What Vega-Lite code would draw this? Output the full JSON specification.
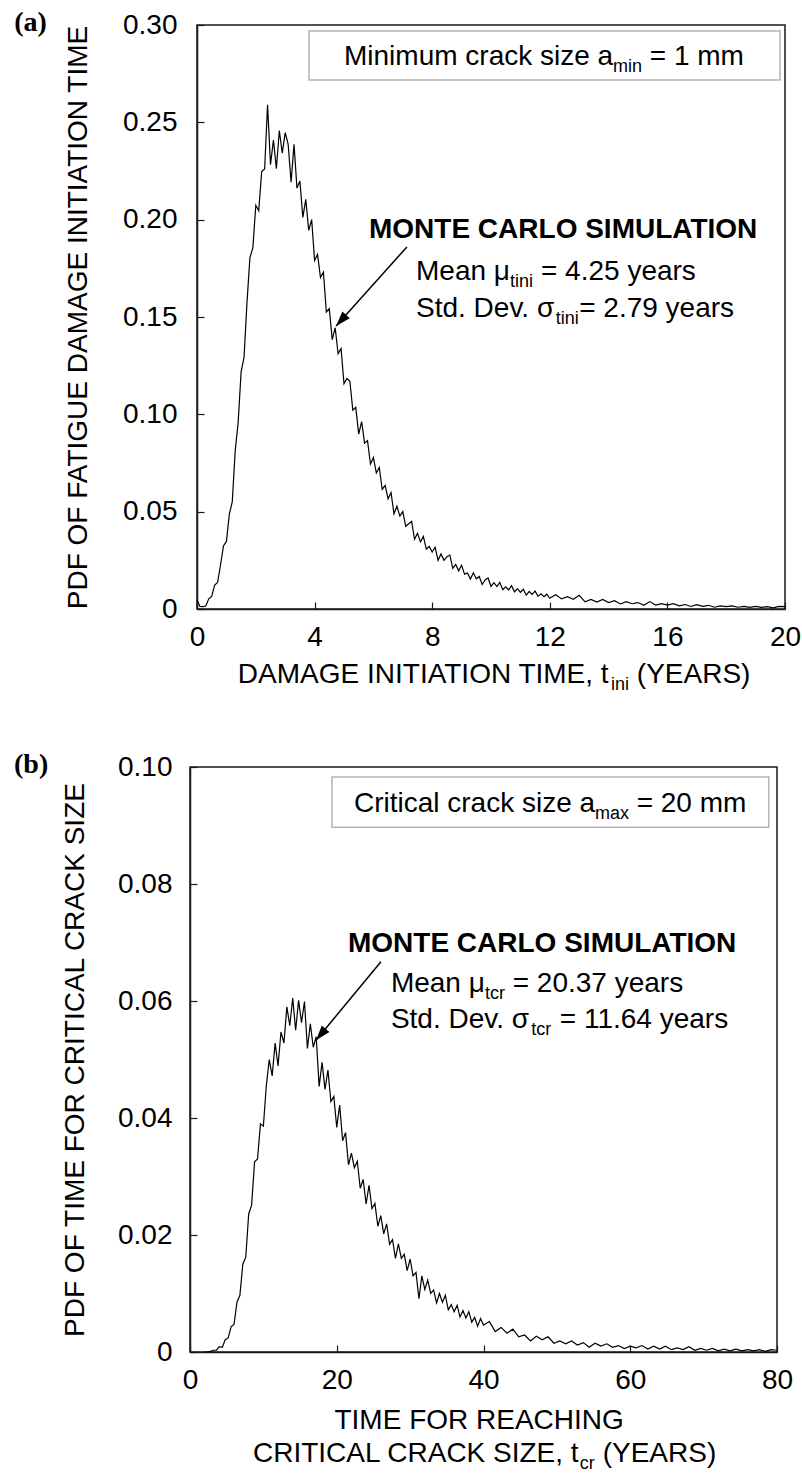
{
  "$schema": "https://vega.github.io/schema/vega-lite/v6.json",
  "padding": {"left": 13, "top": 8, "right": 5, "bottom": 5},
  "spacing": 55,
  "config": {
    "view": {"stroke": "#1a1a1a", "strokeWidth": 1.5},
    "axis": {"domainColor": "#1a1a1a", "domainWidth": 1.5, "tickColor": "#1a1a1a", "tickWidth": 1.2, "tickSize": -7, "labelFont": "Liberation Sans", "labelFontSize": 28, "labelColor": "#000", "titleFont": "Liberation Sans", "titleFontSize": 28, "titleFontWeight": "normal", "titleColor": "#000", "grid": false, "labelFlush": false},
    "axisX": {"labelPadding": 21},
    "axisY": {"labelPadding": 25, "minExtent": 80, "maxExtent": 80}
  },
  "datasets": {
    "curveA": [
      {"x":0,"y":0.0046},{"x":0.1,"y":0.0013},{"x":0.2,"y":0.0012},{"x":0.3,"y":0.0015},{"x":0.4,"y":0.0052},{"x":0.5,"y":0.0065},{"x":0.6,"y":0.0123},{"x":0.7,"y":0.0137},{"x":0.8,"y":0.0226},{"x":0.9,"y":0.0324},
      {"x":1.0,"y":0.0347},{"x":1.1,"y":0.0487},{"x":1.2,"y":0.0551},{"x":1.3,"y":0.0814},{"x":1.4,"y":0.0958},{"x":1.5,"y":0.1218},{"x":1.6,"y":0.1293},{"x":1.7,"y":0.1574},{"x":1.8,"y":0.1805},{"x":1.9,"y":0.1855},
      {"x":2.0,"y":0.2074},{"x":2.1,"y":0.2046},{"x":2.2,"y":0.2247},{"x":2.3,"y":0.226},{"x":2.4,"y":0.259},{"x":2.5,"y":0.2282},{"x":2.6,"y":0.2409},{"x":2.7,"y":0.2262},{"x":2.8,"y":0.2458},{"x":2.9,"y":0.2341},
      {"x":3.0,"y":0.2447},{"x":3.1,"y":0.2388},{"x":3.2,"y":0.2193},{"x":3.3,"y":0.2387},{"x":3.4,"y":0.2162},{"x":3.5,"y":0.2199},{"x":3.6,"y":0.2012},{"x":3.7,"y":0.2104},{"x":3.8,"y":0.1945},{"x":3.9,"y":0.2},
      {"x":4.0,"y":0.179},{"x":4.1,"y":0.1822},{"x":4.2,"y":0.1703},{"x":4.3,"y":0.1731},{"x":4.4,"y":0.1526},{"x":4.5,"y":0.1543},{"x":4.6,"y":0.1384},{"x":4.7,"y":0.1445},{"x":4.8,"y":0.1311},{"x":4.9,"y":0.1338},
      {"x":5.0,"y":0.1157},{"x":5.1,"y":0.1184},{"x":5.2,"y":0.117},{"x":5.3,"y":0.1021},{"x":5.4,"y":0.1036},{"x":5.5,"y":0.0898},{"x":5.6,"y":0.0963},{"x":5.7,"y":0.0852},{"x":5.8,"y":0.0865},{"x":5.9,"y":0.0745},
      {"x":6.0,"y":0.0778},{"x":6.1,"y":0.0699},{"x":6.2,"y":0.0727},{"x":6.3,"y":0.0614},{"x":6.4,"y":0.0635},{"x":6.5,"y":0.0566},{"x":6.6,"y":0.0598},{"x":6.7,"y":0.0489},{"x":6.8,"y":0.0528},{"x":6.9,"y":0.0477},
      {"x":7.0,"y":0.05},{"x":7.1,"y":0.0425},{"x":7.2,"y":0.0438},{"x":7.3,"y":0.045},{"x":7.4,"y":0.0358},{"x":7.5,"y":0.0389},{"x":7.6,"y":0.0345},{"x":7.7,"y":0.0373},{"x":7.8,"y":0.0308},{"x":7.9,"y":0.0321},
      {"x":8.0,"y":0.0293},{"x":8.1,"y":0.0317},{"x":8.2,"y":0.025},{"x":8.3,"y":0.0283},{"x":8.4,"y":0.025},{"x":8.5,"y":0.0269},{"x":8.6,"y":0.0277},{"x":8.7,"y":0.0209},{"x":8.8,"y":0.0229},{"x":8.9,"y":0.0196},
      {"x":9.0,"y":0.0225},{"x":9.1,"y":0.0179},{"x":9.2,"y":0.0185},{"x":9.3,"y":0.0154},{"x":9.4,"y":0.0186},{"x":9.5,"y":0.0155},{"x":9.6,"y":0.0167},{"x":9.7,"y":0.0126},{"x":9.8,"y":0.0149},{"x":9.9,"y":0.0159},
      {"x":10.0,"y":0.0116},{"x":10.1,"y":0.0135},{"x":10.2,"y":0.0115},{"x":10.3,"y":0.0136},{"x":10.4,"y":0.0099},{"x":10.5,"y":0.0114},{"x":10.6,"y":0.0098},{"x":10.7,"y":0.012},{"x":10.8,"y":0.0088},{"x":10.9,"y":0.0105},
      {"x":11.0,"y":0.0086},{"x":11.1,"y":0.0101},{"x":11.2,"y":0.0071},{"x":11.3,"y":0.009},{"x":11.4,"y":0.0075},{"x":11.5,"y":0.0092},{"x":11.6,"y":0.0065},{"x":11.7,"y":0.0078},{"x":11.8,"y":0.0063},{"x":11.9,"y":0.0076},
      {"x":12.0,"y":0.0055},{"x":12.2,"y":0.0073},{"x":12.4,"y":0.0052},{"x":12.6,"y":0.0063},{"x":12.8,"y":0.005},{"x":13.0,"y":0.007},{"x":13.2,"y":0.0037},{"x":13.4,"y":0.0049},{"x":13.6,"y":0.0036},{"x":13.8,"y":0.0049},
      {"x":14.0,"y":0.0033},{"x":14.2,"y":0.0043},{"x":14.4,"y":0.0026},{"x":14.6,"y":0.0038},{"x":14.8,"y":0.0027},{"x":15.0,"y":0.0033},{"x":15.2,"y":0.0019},{"x":15.4,"y":0.0038},{"x":15.6,"y":0.002},{"x":15.8,"y":0.0028},
      {"x":16.0,"y":0.002},{"x":16.2,"y":0.0027},{"x":16.4,"y":0.0016},{"x":16.6,"y":0.0023},{"x":16.8,"y":0.0013},{"x":17.0,"y":0.0022},{"x":17.2,"y":0.0014},{"x":17.4,"y":0.0019},{"x":17.6,"y":0.0009},{"x":17.8,"y":0.0016},
      {"x":18.0,"y":0.0012},{"x":18.2,"y":0.0016},{"x":18.4,"y":0.0009},{"x":18.6,"y":0.0013},{"x":18.8,"y":0.0008},{"x":19.0,"y":0.0013},{"x":19.2,"y":0.0008},{"x":19.4,"y":0.0012},{"x":19.6,"y":0.0006},{"x":19.8,"y":0.0013},{"x":20.0,"y":0.0012}
    ],
    "curveB": [
      {"x":2.0,"y":0},{"x":2.4,"y":0},{"x":2.8,"y":0.0001},{"x":3.2,"y":0.0003},{"x":3.6,"y":0.0003},{"x":4.0,"y":0.0009},{"x":4.4,"y":0.0008},{"x":4.8,"y":0.0021},{"x":5.2,"y":0.0024},{"x":5.6,"y":0.0043},
      {"x":6.0,"y":0.0047},{"x":6.4,"y":0.0085},{"x":6.8,"y":0.0097},{"x":7.2,"y":0.015},{"x":7.6,"y":0.0162},{"x":8.0,"y":0.0236},{"x":8.4,"y":0.0251},{"x":8.8,"y":0.0325},{"x":9.2,"y":0.033},{"x":9.6,"y":0.039},
      {"x":10.0,"y":0.0386},{"x":10.4,"y":0.0455},{"x":10.8,"y":0.05},{"x":11.2,"y":0.0472},{"x":11.6,"y":0.0528},{"x":12.0,"y":0.0489},{"x":12.4,"y":0.0547},{"x":12.8,"y":0.0528},{"x":13.2,"y":0.059},{"x":13.6,"y":0.0558},
      {"x":14.0,"y":0.0605},{"x":14.4,"y":0.055},{"x":14.8,"y":0.0601},{"x":15.2,"y":0.0563},{"x":15.6,"y":0.0599},{"x":16.0,"y":0.0519},{"x":16.4,"y":0.0561},{"x":16.8,"y":0.0521},{"x":17.2,"y":0.0539},{"x":17.6,"y":0.0454},
      {"x":18.0,"y":0.0495},{"x":18.4,"y":0.0449},{"x":18.8,"y":0.0482},{"x":19.2,"y":0.0428},{"x":19.6,"y":0.0437},{"x":20.0,"y":0.0384},{"x":20.4,"y":0.0422},{"x":20.8,"y":0.0361},{"x":21.2,"y":0.0375},{"x":21.6,"y":0.032},
      {"x":22.0,"y":0.034},{"x":22.4,"y":0.0315},{"x":22.8,"y":0.0326},{"x":23.2,"y":0.028},{"x":23.6,"y":0.0295},{"x":24.0,"y":0.0253},{"x":24.4,"y":0.0285},{"x":24.8,"y":0.0245},{"x":25.2,"y":0.0254},{"x":25.6,"y":0.0215},
      {"x":26.0,"y":0.0233},{"x":26.4,"y":0.0202},{"x":26.8,"y":0.0219},{"x":27.2,"y":0.0184},{"x":27.6,"y":0.0192},{"x":28.0,"y":0.016},{"x":28.4,"y":0.0185},{"x":28.8,"y":0.016},{"x":29.2,"y":0.0167},{"x":29.6,"y":0.0139},
      {"x":30.0,"y":0.0159},{"x":30.4,"y":0.013},{"x":30.8,"y":0.0136},{"x":31.2,"y":0.0091},{"x":31.6,"y":0.013},{"x":32.0,"y":0.0107},{"x":32.4,"y":0.0123},{"x":32.8,"y":0.01},{"x":33.2,"y":0.0106},{"x":33.6,"y":0.0084},
      {"x":34.0,"y":0.01},{"x":34.4,"y":0.0085},{"x":34.8,"y":0.0097},{"x":35.2,"y":0.0072},{"x":35.6,"y":0.0081},{"x":36.0,"y":0.0069},{"x":36.4,"y":0.008},{"x":36.8,"y":0.006},{"x":37.2,"y":0.0071},{"x":37.6,"y":0.0058},
      {"x":38.0,"y":0.0069},{"x":38.4,"y":0.0051},{"x":38.8,"y":0.0059},{"x":39.2,"y":0.0044},{"x":39.6,"y":0.0057},{"x":40.0,"y":0.0046},{"x":40.8,"y":0.0052},{"x":41.6,"y":0.0035},{"x":42.4,"y":0.0042},{"x":43.2,"y":0.0032},
      {"x":44.0,"y":0.0039},{"x":44.8,"y":0.0026},{"x":45.6,"y":0.0029},{"x":46.4,"y":0.0019},{"x":47.2,"y":0.0027},{"x":48.0,"y":0.0021},{"x":48.8,"y":0.0026},{"x":49.6,"y":0.0015},{"x":50.4,"y":0.0019},{"x":51.2,"y":0.0014},
      {"x":52.0,"y":0.0019},{"x":52.8,"y":0.0012},{"x":53.6,"y":0.0016},{"x":54.4,"y":0.0008},{"x":55.2,"y":0.0015},{"x":56.0,"y":0.001},{"x":56.8,"y":0.0014},{"x":57.6,"y":0.0008},{"x":58.4,"y":0.0011},{"x":59.2,"y":0.0006},
      {"x":60.0,"y":0.001},{"x":60.8,"y":0.0007},{"x":61.6,"y":0.0011},{"x":62.4,"y":0.0005},{"x":63.2,"y":0.001},{"x":64.0,"y":0.0005},{"x":64.8,"y":0.001},{"x":65.6,"y":0.0004},{"x":66.4,"y":0.0007},{"x":67.2,"y":0.0004},
      {"x":68.0,"y":0.0009},{"x":68.8,"y":0.0003},{"x":69.6,"y":0.0006},{"x":70.4,"y":0.0003},{"x":71.2,"y":0.0006},{"x":72.0,"y":0.0002},{"x":72.8,"y":0.0005},{"x":73.6,"y":0.0002},{"x":74.4,"y":0.0005},{"x":75.2,"y":0.0002},
      {"x":76.0,"y":0.0004},{"x":76.8,"y":0.0002},{"x":77.6,"y":0.0004},{"x":78.4,"y":0.0001},{"x":79.2,"y":0.0004},{"x":80.0,"y":0.0003}
    ],
    "boxA": [{"x": 3.81, "x2": 19.83, "y": 0.2717, "y2": 0.2969}],
    "arrowA": [{"x": 7.14, "y": 0.186, "x2": 4.73, "y2": 0.1454}],
    "headA": [{"x": 4.73, "y": 0.1454}],
    "textA": [
      {"x": 5.0, "y": 0.2794, "text": "Minimum crack size a"},
      {"x": 15.40, "y": 0.2794, "text": "= 1 mm"},
      {"x": 7.45, "y": 0.169, "text": "Mean μ"},
      {"x": 11.70, "y": 0.169, "text": "= 4.25 years"},
      {"x": 7.45, "y": 0.150, "text": "Std. Dev. σ"},
      {"x": 13.0, "y": 0.150, "text": "= 2.79 years"},
      {"x": 1.39, "y": -0.038, "text": "DAMAGE INITIATION TIME, t"},
      {"x": 14.96, "y": -0.038, "text": "(YEARS)"}
    ],
    "subA": [
      {"x": 14.15, "y": 0.2758, "text": "min"},
      {"x": 10.65, "y": 0.1654, "text": "tini"},
      {"x": 12.2, "y": 0.1464, "text": "tini"},
      {"x": 14.08, "y": -0.0416, "text": "ini"}
    ],
    "boldA": [{"x": 5.85, "y": 0.1906, "text": "MONTE CARLO SIMULATION"}],
    "labelA": [{"x": -6.22, "y": 0.2969, "text": "(a)"}],
    "frameB": [{"x": 0, "x2": 80, "y": 0, "y2": 0.1}],
    "boxB": [{"x": 19.35, "x2": 78.88, "y": 0.0897, "y2": 0.0983}],
    "arrowB": [{"x": 26.02, "y": 0.0667, "x2": 17.17, "y2": 0.0533}],
    "headB": [{"x": 17.17, "y": 0.0533}],
    "textB": [
      {"x": 22.34, "y": 0.0923, "text": "Critical crack size a"},
      {"x": 60.87, "y": 0.0923, "text": "= 20 mm"},
      {"x": 27.38, "y": 0.0615, "text": "Mean μ"},
      {"x": 43.98, "y": 0.0615, "text": "= 20.37 years"},
      {"x": 27.38, "y": 0.0554, "text": "Std. Dev. σ"},
      {"x": 50.4, "y": 0.0554, "text": "= 11.64 years"},
      {"x": 19.69, "y": -0.0132, "text": "TIME FOR REACHING"},
      {"x": 8.58, "y": -0.0188, "text": "CRITICAL CRACK SIZE, t"},
      {"x": 56.24, "y": -0.0188, "text": "(YEARS)"}
    ],
    "subB": [
      {"x": 55.18, "y": 0.0911, "text": "max"},
      {"x": 40.19, "y": 0.0603, "text": "tcr"},
      {"x": 46.5, "y": 0.0542, "text": "tcr"},
      {"x": 53.13, "y": -0.02, "text": "cr"}
    ],
    "boldB": [{"x": 21.53, "y": 0.0684, "text": "MONTE CARLO SIMULATION"}],
    "labelB": [{"x": -23.98, "y": 0.099, "text": "(b)"}]
  },
  "vconcat": [
    {
      "width": 588,
      "height": 584,
      "encoding": {
        "x": {"field": "x", "type": "quantitative", "scale": {"domain": [0, 20], "nice": false, "zero": false}, "axis": {"title": null, "values": [0, 4, 8, 12, 16, 20]}},
        "y": {"field": "y", "type": "quantitative", "scale": {"domain": [0, 0.3], "nice": false, "zero": false}, "axis": {"title": "PDF OF FATIGUE DAMAGE INITIATION TIME", "titlePadding": 25, "labelPadding": 27, "values": [0, 0.05, 0.1, 0.15, 0.2, 0.25, 0.3], "labelExpr": "datum.value == 0 ? '0' : format(datum.value, '.2f')"}}
      },
      "layer": [
        {"data": {"name": "boxA"}, "mark": {"type": "rect", "fill": "white", "stroke": "#b4b4b4", "strokeWidth": 1.5}, "encoding": {"x2": {"field": "x2"}, "y2": {"field": "y2"}}},
        {"data": {"name": "curveA"}, "mark": {"type": "line", "color": "black", "strokeWidth": 1.2}},
        {"data": {"name": "arrowA"}, "mark": {"type": "rule", "color": "black", "strokeWidth": 1.5}, "encoding": {"x2": {"field": "x2"}, "y2": {"field": "y2"}}},
        {"data": {"name": "headA"}, "mark": {"type": "point", "shape": "M0,0L1,3L-1,3Z", "size": 100, "filled": true, "color": "black", "opacity": 1, "angle": 222}},
        {"data": {"name": "textA"}, "mark": {"type": "text", "font": "Liberation Sans", "fontSize": 28, "align": "left", "baseline": "alphabetic", "color": "black"}, "encoding": {"text": {"field": "text"}}},
        {"data": {"name": "subA"}, "mark": {"type": "text", "font": "Liberation Sans", "fontSize": 18, "align": "left", "baseline": "alphabetic", "color": "black"}, "encoding": {"text": {"field": "text"}}},
        {"data": {"name": "boldA"}, "mark": {"type": "text", "font": "Liberation Sans", "fontSize": 28, "fontWeight": "bold", "align": "left", "baseline": "alphabetic", "color": "black"}, "encoding": {"text": {"field": "text"}}},
        {"data": {"name": "labelA"}, "mark": {"type": "text", "font": "Liberation Serif", "fontSize": 28, "fontWeight": "bold", "align": "left", "baseline": "alphabetic", "color": "black"}, "encoding": {"text": {"field": "text"}}}
      ]
    },
    {
      "width": 580,
      "height": 585,
      "view": {"stroke": null},
      "encoding": {
        "x": {"field": "x", "type": "quantitative", "scale": {"domain": [0, 80], "range": [-7, 580], "nice": false, "zero": false}, "axis": {"title": null, "values": [0, 20, 40, 60, 80]}},
        "y": {"field": "y", "type": "quantitative", "scale": {"domain": [0, 0.1], "nice": false, "zero": false}, "axis": {"title": "PDF OF TIME FOR CRITICAL CRACK SIZE", "titlePadding": 21, "offset": 7, "values": [0, 0.02, 0.04, 0.06, 0.08, 0.1], "labelExpr": "datum.value == 0 ? '0' : format(datum.value, '.2f')"}}
      },
      "layer": [
        {"data": {"name": "frameB"}, "mark": {"type": "rect", "filled": false, "color": "#1a1a1a", "strokeWidth": 1.5}, "encoding": {"x2": {"field": "x2"}, "y2": {"field": "y2"}}},
        {"data": {"name": "boxB"}, "mark": {"type": "rect", "fill": "white", "stroke": "#b4b4b4", "strokeWidth": 1.5}, "encoding": {"x2": {"field": "x2"}, "y2": {"field": "y2"}}},
        {"data": {"name": "curveB"}, "mark": {"type": "line", "color": "black", "strokeWidth": 1.2}},
        {"data": {"name": "arrowB"}, "mark": {"type": "rule", "color": "black", "strokeWidth": 1.5}, "encoding": {"x2": {"field": "x2"}, "y2": {"field": "y2"}}},
        {"data": {"name": "headB"}, "mark": {"type": "point", "shape": "M0,0L1,3L-1,3Z", "size": 100, "filled": true, "color": "black", "opacity": 1, "angle": 220}},
        {"data": {"name": "textB"}, "mark": {"type": "text", "font": "Liberation Sans", "fontSize": 28, "align": "left", "baseline": "alphabetic", "color": "black"}, "encoding": {"text": {"field": "text"}}},
        {"data": {"name": "subB"}, "mark": {"type": "text", "font": "Liberation Sans", "fontSize": 18, "align": "left", "baseline": "alphabetic", "color": "black"}, "encoding": {"text": {"field": "text"}}},
        {"data": {"name": "boldB"}, "mark": {"type": "text", "font": "Liberation Sans", "fontSize": 28, "fontWeight": "bold", "align": "left", "baseline": "alphabetic", "color": "black"}, "encoding": {"text": {"field": "text"}}},
        {"data": {"name": "labelB"}, "mark": {"type": "text", "font": "Liberation Serif", "fontSize": 28, "fontWeight": "bold", "align": "left", "baseline": "alphabetic", "color": "black"}, "encoding": {"text": {"field": "text"}}}
      ]
    }
  ]
}
